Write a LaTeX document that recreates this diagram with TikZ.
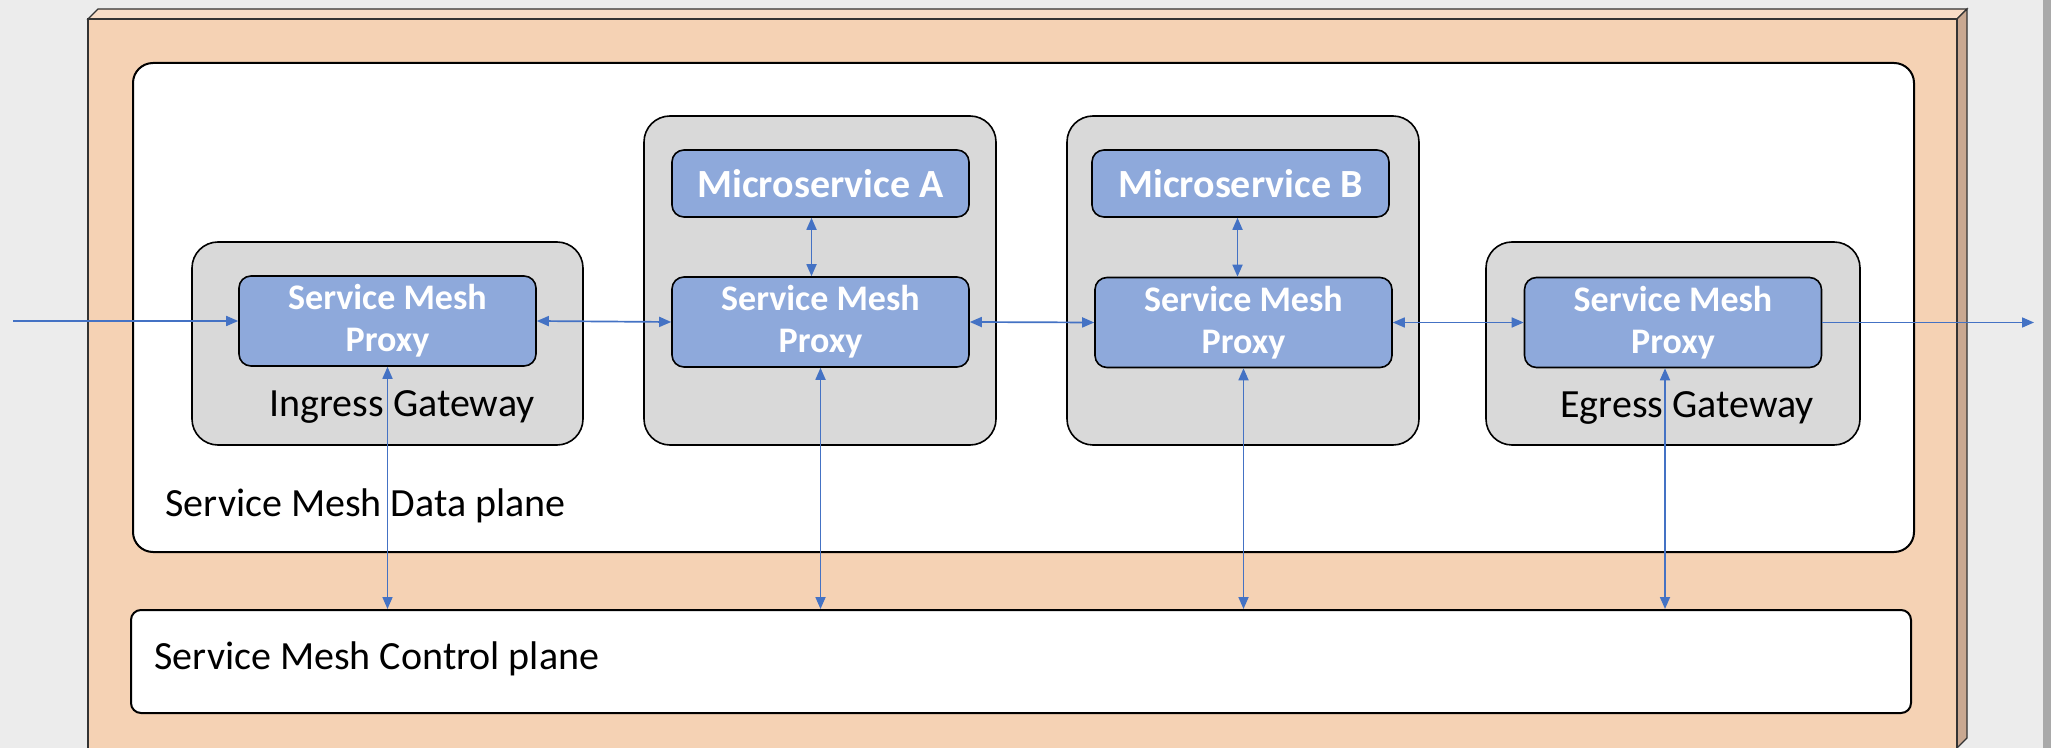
\documentclass[tikz,border=0pt]{standalone}
\usepackage{fontspec}
\setmainfont{Carlito}
\usetikzlibrary{arrows.meta,positioning,calc}

\definecolor{bgcol}{HTML}{ECECEC}
\definecolor{barcol}{HTML}{A9A9A9}
\definecolor{facecol}{HTML}{F5D2B4}
\definecolor{topcol}{HTML}{F8DCC6}
\definecolor{sidecol}{HTML}{C9A891}
\definecolor{boxgray}{HTML}{D9D9D9}
\definecolor{proxyblue}{HTML}{8EA9DB}
\definecolor{flowblue}{HTML}{4472C4}

\begin{document}
\begin{tikzpicture}[x=0.5pt, y=-0.5pt,
    plane/.style={draw=black, line width=1pt, fill=white, rounded corners=10pt, inner sep=0pt},
    container/.style={draw=black, line width=0.8pt, fill=boxgray, rounded corners=13pt, inner sep=0pt},
    proxy/.style={draw=black, line width=0.8pt, fill=proxyblue, rounded corners=6pt, inner sep=0pt,
        minimum width=148.5pt, minimum height=45pt, align=center, text=white,
        font=\fontsize{18}{21}\selectfont\bfseries},
    micro/.style={proxy, minimum height=33.5pt, font=\fontsize{20}{24}\selectfont\bfseries},
    lbl/.style={inner sep=0pt, font=\fontsize{20}{24}\selectfont},
    flow/.style={draw=flowblue, line width=0.85pt, >={Triangle[length=6pt,width=5pt]}}
]

% Page
\useasboundingbox (0,0) rectangle (2051,748);
\clip (0,0) rectangle (2051,748);
\fill[bgcol] (0,0) rectangle (2051,748);
\fill[barcol] (2043,0) rectangle (2051,748);

% Outer box
\filldraw[fill=topcol, draw=black!80, line width=0.6pt] (88,19) -- (98,9) -- (1967,9) -- (1957,19) -- cycle;
\filldraw[fill=sidecol, draw=black!80, line width=0.6pt] (1957,19) -- (1967,9) -- (1967,738) -- (1957,748) -- cycle;
\filldraw[fill=facecol, draw=black!80, line width=0.6pt] (88,19) rectangle (1957,760);

% Planes
\node[plane, minimum width=890.5pt, minimum height=244.5pt] (data) at (1023.5,307.5) {};
\node[plane, rounded corners=5pt, minimum width=890pt, minimum height=51.5pt] (ctrl) at (1021,661.5) {};
\node[lbl, anchor=west] (datalbl) at (165,506) {Service Mesh Data plane};
\node[lbl, anchor=west] (ctrllbl) at (154,659) {Service Mesh Control plane};

% Gateways and services
\node[container, minimum width=195.5pt, minimum height=101.5pt] (ingw) at (387.5,343.5) {};
\node[container, minimum width=176pt, minimum height=164.5pt] (cnta) at (820,280.5) {};
\node[container, minimum width=176pt, minimum height=164.5pt] (cntb) at (1243,280.5) {};
\node[container, minimum width=187pt, minimum height=101.5pt] (egw) at (1673,343.5) {};
\node[lbl] (inlbl) at (402,407) {Ingress Gateway};
\node[lbl] (eglbl) at (1687,408) {Egress Gateway};

% Proxies
\node[proxy] (ipx) at (387.5,321) {Service Mesh\\Proxy};
\node[proxy] (pxa) at (820.5,322) {Service Mesh\\Proxy};
\node[proxy] (pxb) at (1243.5,322.5) {Service Mesh\\Proxy};
\node[proxy] (epx) at (1673,322.5) {Service Mesh\\Proxy};
\node[micro] (msa) at (820.5,183.5) {Microservice A};
\node[micro] (msb) at (1240.5,183.5) {Microservice B};

% Traffic
\coordinate (inpt) at (13,321);
\coordinate (outpt) at (2034,322.5);
\draw[flow, ->] (inpt) -- (ipx.west);
\draw[flow, <->] (ipx.east) -- (pxa.west);
\draw[flow, <->] (pxa.east) -- (pxb.west);
\draw[flow, <->] (pxb.east) -- (epx.west);
\draw[flow, ->] (epx.east) -- (outpt);
\draw[flow, <->] ([xshift=-4.5pt]msa.south) -- ([xshift=-4.5pt]msa.south |- pxa.north);
\draw[flow, <->] ([xshift=-1.5pt]msb.south) -- ([xshift=-1.5pt]msb.south |- pxb.north);

% Control
\draw[flow, <->] (ipx.south) -- (ipx.south |- ctrl.north);
\draw[flow, <->] (pxa.south) -- (pxa.south |- ctrl.north);
\draw[flow, <->] (pxb.south) -- (pxb.south |- ctrl.north);
\draw[flow, <->] ([xshift=-4pt]epx.south) -- ([xshift=-4pt]epx.south |- ctrl.north);

\end{tikzpicture}
\end{document}
